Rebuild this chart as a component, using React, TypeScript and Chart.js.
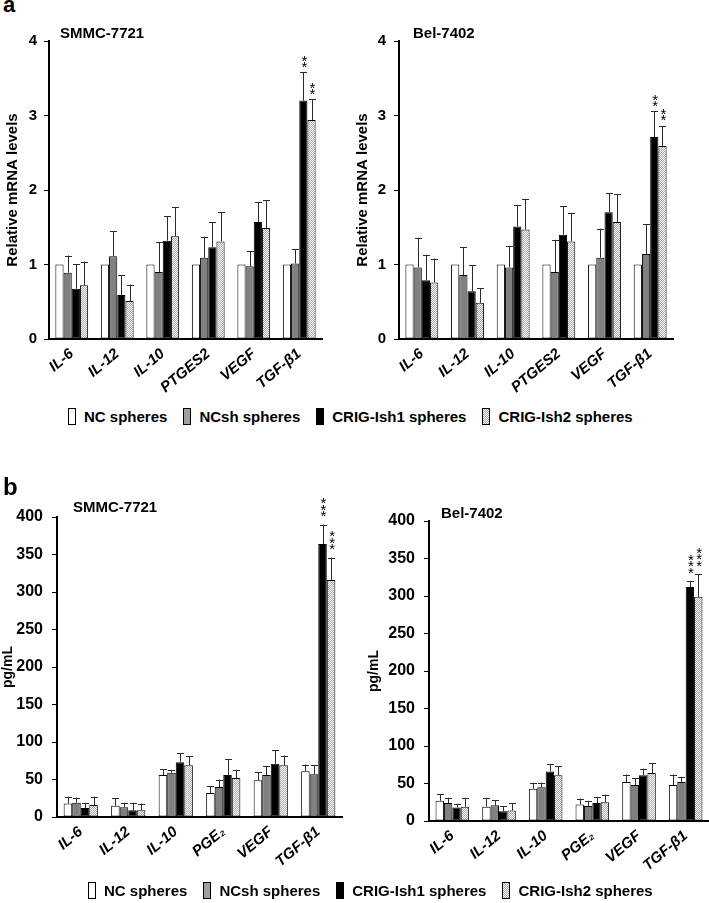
import React, { useEffect, useRef } from 'react';
import { Chart, registerables } from 'chart.js';

Chart.register(...registerables);

// ---------- data ----------
const SERIES = ['NC spheres', 'NCsh spheres', 'CRIG-Ish1 spheres', 'CRIG-Ish2 spheres'];
const MRNA_LABELS = ['IL-6', 'IL-12', 'IL-10', 'PTGES2', 'VEGF', 'TGF-β1'];
const PROTEIN_LABELS = ['IL-6', 'IL-12', 'IL-10', 'PGE₂', 'VEGF', 'TGF-β1'];

const MRNA_TICKS = [0, 1, 2, 3, 4];
const PROTEIN_TICKS = [0, 50, 100, 150, 200, 250, 300, 350, 400];

// (a) SMMC-7721 relative mRNA levels
const SMMC_MRNA_NC = [1, 1, 1, 1, 1, 1];
const SMMC_MRNA_NCSH = [0.89, 1.11, 0.9, 1.09, 0.975, 1.015];
const SMMC_MRNA_SH1 = [0.675, 0.59, 1.32, 1.23, 1.57, 3.2];
const SMMC_MRNA_SH2 = [0.72, 0.51, 1.38, 1.31, 1.49, 2.94];
const SMMC_MRNA_NC_ERR = [0, 0, 0, 0, 0, 0];
const SMMC_MRNA_NCSH_ERR = [0.23, 0.34, 0.4, 0.28, 0.2, 0.19];
const SMMC_MRNA_SH1_ERR = [0.33, 0.27, 0.33, 0.34, 0.27, 0.38];
const SMMC_MRNA_SH2_ERR = [0.32, 0.22, 0.39, 0.39, 0.37, 0.28];

// (a) Bel-7402 relative mRNA levels
const BEL_MRNA_NC = [1, 1, 1, 1, 1, 1];
const BEL_MRNA_NCSH = [0.96, 0.86, 0.96, 0.9, 1.09, 1.14];
const BEL_MRNA_SH1 = [0.79, 0.64, 1.51, 1.4, 1.7, 2.71];
const BEL_MRNA_SH2 = [0.76, 0.485, 1.47, 1.31, 1.57, 2.59];
const BEL_MRNA_NC_ERR = [0, 0, 0, 0, 0, 0];
const BEL_MRNA_NCSH_ERR = [0.4, 0.37, 0.29, 0.43, 0.39, 0.4];
const BEL_MRNA_SH1_ERR = [0.34, 0.35, 0.29, 0.38, 0.26, 0.35];
const BEL_MRNA_SH2_ERR = [0.32, 0.2, 0.41, 0.38, 0.37, 0.27];

// (b) SMMC-7721 pg/mL
const SMMC_PROT_NC = [18, 15, 56, 32, 49, 61];
const SMMC_PROT_NCSH = [19, 13, 59, 40, 56, 57];
const SMMC_PROT_SH1 = [12, 9, 73, 56, 71, 364];
const SMMC_PROT_SH2 = [16, 9, 69, 52, 69, 316];
const SMMC_PROT_NC_ERR = [9, 10, 8, 9, 11, 9];
const SMMC_PROT_NCSH_ERR = [7, 6, 4, 10, 12, 12];
const SMMC_PROT_SH1_ERR = [7, 10, 12, 21, 18, 26];
const SMMC_PROT_SH2_ERR = [11, 9, 12, 11, 13, 30];

// (b) Bel-7402 pg/mL
const BEL_PROT_NC = [27, 19, 43, 22, 52, 48];
const BEL_PROT_NCSH = [24, 21, 45, 20, 48, 52];
const BEL_PROT_SH1 = [18, 13, 66, 24, 61, 312];
const BEL_PROT_SH2 = [19, 14, 61, 25, 64, 299];
const BEL_PROT_NC_ERR = [9, 12, 8, 8, 10, 14];
const BEL_PROT_NCSH_ERR = [7, 7, 6, 7, 9, 7];
const BEL_PROT_SH1_ERR = [5, 7, 10, 8, 9, 8];
const BEL_PROT_SH2_ERR = [12, 10, 12, 10, 13, 30];

// significance marks (number of stars per bar)
const NO_STARS = [0, 0, 0, 0, 0, 0];
const MRNA_STARS = [0, 0, 0, 0, 0, 2];
const PROT_STARS = [0, 0, 0, 0, 0, 3];

// ---------- styling ----------
const FONT = '"Liberation Sans", Arial, Helvetica, sans-serif';
const BAR_FILLS = ['#ffffff', '#808080', '#000000', 'PATTERN'];
const LEGEND_FILLS = ['#ffffff', '#a0a0a0', '#000000', 'PATTERN'];
const LABEL_ROTATION_DEG = 40;

function makePattern(): CanvasPattern | string {
  const c = document.createElement('canvas');
  c.width = 2;
  c.height = 2;
  const ctx = c.getContext('2d');
  if (!ctx) return '#d4d4d4';
  ctx.fillStyle = '#ffffff';
  ctx.fillRect(0, 0, 2, 2);
  ctx.fillStyle = '#a8a8a8';
  ctx.fillRect(0, 0, 1, 1);
  ctx.fillRect(1, 1, 1, 1);
  return ctx.createPattern(c, 'repeat') || '#d4d4d4';
}

// error bars + stacked significance stars, positioned through the y scale
const errorBarPlugin = {
  id: 'errorBars',
  afterDatasetsDraw(chart: any) {
    const ctx = chart.ctx;
    const yScale = chart.scales.y;
    const starGap = chart.options.plugins.errorBars?.starGap ?? 8;
    const starStep = chart.options.plugins.errorBars?.starStep ?? 6;
    const starSize = 15;
    chart.data.datasets.forEach((ds: any, i: number) => {
      const meta = chart.getDatasetMeta(i);
      meta.data.forEach((el: any, j: number) => {
        const v = ds.data[j];
        const e = ds.errors[j];
        const top = yScale.getPixelForValue(v + e);
        const x = Math.round(el.x) + 0.5;
        if (e > 0) {
          ctx.save();
          ctx.strokeStyle = '#2a2a2a';
          ctx.lineWidth = 1;
          ctx.beginPath();
          ctx.moveTo(x, el.y);
          ctx.lineTo(x, top);
          ctx.moveTo(x - 3.5, Math.round(top) + 0.5);
          ctx.lineTo(x + 3.5, Math.round(top) + 0.5);
          ctx.stroke();
          ctx.restore();
        }
        const n = ds.stars[j];
        if (n > 0) {
          ctx.save();
          ctx.fillStyle = '#000';
          ctx.font = `${starSize}px ${FONT}`;
          ctx.textAlign = 'center';
          ctx.textBaseline = 'alphabetic';
          for (let k = 0; k < n; k++) {
            const cy = top - starGap - k * starStep;
            // asterisk glyph centre sits ~0.57em above the baseline
            ctx.fillText('*', el.x + 1, cy + 0.57 * starSize);
          }
          ctx.restore();
        }
      });
    });
  },
};

type PanelSpec = {
  left: number;
  top: number;
  width: number;
  height: number;
  yWidth: number;
  xHeight: number;
  padTop: number;
  padRight: number;
  labels: string[];
  values: number[][];
  errors: number[][];
  stars: number[][];
  ticks: number[];
  tickSize: number;
  yTitle: string;
  yTitleSize: number;
  yTitlePad: number;
  tickPad: number;
  starGap: number;
  starStep: number;
};

const PANELS: PanelSpec[] = [
  {
    left: 0, top: 21, width: 328, height: 380, yWidth: 49, xHeight: 62, padTop: 20, padRight: 6,
    labels: MRNA_LABELS,
    values: [SMMC_MRNA_NC, SMMC_MRNA_NCSH, SMMC_MRNA_SH1, SMMC_MRNA_SH2],
    errors: [SMMC_MRNA_NC_ERR, SMMC_MRNA_NCSH_ERR, SMMC_MRNA_SH1_ERR, SMMC_MRNA_SH2_ERR],
    stars: [NO_STARS, NO_STARS, MRNA_STARS, MRNA_STARS],
    ticks: MRNA_TICKS, tickSize: 15, yTitle: 'Relative mRNA levels', yTitleSize: 15, yTitlePad: 4, tickPad: 7,
    starGap: 9, starStep: 6,
  },
  {
    left: 350, top: 21, width: 329, height: 380, yWidth: 49, xHeight: 62, padTop: 20, padRight: 6,
    labels: MRNA_LABELS,
    values: [BEL_MRNA_NC, BEL_MRNA_NCSH, BEL_MRNA_SH1, BEL_MRNA_SH2],
    errors: [BEL_MRNA_NC_ERR, BEL_MRNA_NCSH_ERR, BEL_MRNA_SH1_ERR, BEL_MRNA_SH2_ERR],
    stars: [NO_STARS, NO_STARS, MRNA_STARS, MRNA_STARS],
    ticks: MRNA_TICKS, tickSize: 15, yTitle: 'Relative mRNA levels', yTitleSize: 15, yTitlePad: 4, tickPad: 8,
    starGap: 9, starStep: 6,
  },
  {
    left: 0, top: 497, width: 348, height: 382, yWidth: 57, xHeight: 62, padTop: 20, padRight: 6,
    labels: PROTEIN_LABELS,
    values: [SMMC_PROT_NC, SMMC_PROT_NCSH, SMMC_PROT_SH1, SMMC_PROT_SH2],
    errors: [SMMC_PROT_NC_ERR, SMMC_PROT_NCSH_ERR, SMMC_PROT_SH1_ERR, SMMC_PROT_SH2_ERR],
    stars: [NO_STARS, NO_STARS, PROT_STARS, PROT_STARS],
    ticks: PROTEIN_TICKS, tickSize: 16, yTitle: 'pg/mL', yTitleSize: 14, yTitlePad: 0, tickPad: 9,
    starGap: 12, starStep: 6.5,
  },
  {
    left: 350, top: 501, width: 359, height: 382, yWidth: 79, xHeight: 62, padTop: 20, padRight: 0,
    labels: PROTEIN_LABELS,
    values: [BEL_PROT_NC, BEL_PROT_NCSH, BEL_PROT_SH1, BEL_PROT_SH2],
    errors: [BEL_PROT_NC_ERR, BEL_PROT_NCSH_ERR, BEL_PROT_SH1_ERR, BEL_PROT_SH2_ERR],
    stars: [NO_STARS, NO_STARS, PROT_STARS, PROT_STARS],
    ticks: PROTEIN_TICKS, tickSize: 16, yTitle: 'pg/mL', yTitleSize: 14, yTitlePad: 16, tickPad: 9,
    starGap: 12, starStep: 6.5,
  },
];

function BarPanel({ spec }: { spec: PanelSpec }) {
  const ref = useRef<HTMLCanvasElement | null>(null);
  useEffect(() => {
    if (!ref.current) return;
    const pattern = makePattern();
    const ticks = spec.ticks;
    const chart = new Chart(ref.current, {
      type: 'bar',
      data: {
        labels: spec.labels,
        datasets: SERIES.map((name, i) => ({
          label: name,
          data: spec.values[i],
          errors: spec.errors[i],
          stars: spec.stars[i],
          backgroundColor: BAR_FILLS[i] === 'PATTERN' ? pattern : BAR_FILLS[i],
          borderColor: '#000',
          borderWidth: 1,
          borderSkipped: false,
          categoryPercentage: 0.72,
          barPercentage: 1.0,
        })) as any,
      },
      options: {
        animation: false,
        responsive: false,
        maintainAspectRatio: false,
        devicePixelRatio: 1,
        layout: { padding: { top: spec.padTop, right: spec.padRight, left: 0, bottom: 0 } },
        plugins: {
          legend: { display: false },
          tooltip: { enabled: false },
          errorBars: { starGap: spec.starGap, starStep: spec.starStep },
        } as any,
        scales: {
          x: {
            grid: { display: false, drawTicks: false },
            border: { display: true, color: '#000', width: 2 },
            ticks: {
              color: '#000',
              autoSkip: false,
              minRotation: LABEL_ROTATION_DEG,
              maxRotation: LABEL_ROTATION_DEG,
              padding: 6,
              font: { family: FONT, size: 15, weight: 'bold', style: 'italic' },
            },
            afterFit: (s: any) => {
              s.height = spec.xHeight;
            },
          },
          y: {
            min: ticks[0],
            max: ticks[ticks.length - 1],
            afterBuildTicks: (s: any) => {
              s.ticks = ticks.map((v) => ({ value: v }));
            },
            ticks: {
              color: '#000',
              padding: spec.tickPad,
              font: { family: FONT, size: spec.tickSize, weight: 'bold' },
            },
            grid: { drawOnChartArea: false, drawTicks: true, tickLength: 5, color: '#000', lineWidth: 1 },
            border: { display: true, color: '#000', width: 2 },
            title: {
              display: true,
              text: spec.yTitle,
              color: '#000',
              font: { family: FONT, size: spec.yTitleSize, weight: 'bold', lineHeight: 1.2 },
              padding: { top: spec.yTitlePad, bottom: 0 },
            },
            afterFit: (s: any) => {
              s.width = spec.yWidth;
            },
          },
        },
      } as any,
      plugins: [errorBarPlugin as any],
    });
    return () => chart.destroy();
  }, [spec]);
  return (
    <canvas
      ref={ref}
      width={spec.width}
      height={spec.height}
      style={{ position: 'absolute', left: spec.left, top: spec.top, width: spec.width, height: spec.height }}
    />
  );
}

function Legend({ left, top }: { left: number; top: number }) {
  return (
    <div
      style={{
        position: 'absolute',
        left,
        top,
        height: 17,
        display: 'flex',
        alignItems: 'center',
        whiteSpace: 'nowrap',
        fontFamily: FONT,
        fontWeight: 'bold',
        fontSize: 15,
        color: '#000',
      }}
    >
      {SERIES.map((name, i) => (
        <div key={name} style={{ display: 'flex', alignItems: 'center', marginRight: i < SERIES.length - 1 ? 16 : 0 }}>
          <div
            style={{
              width: 8,
              height: 17,
              boxSizing: 'border-box',
              border: '1px solid #000',
              background:
                LEGEND_FILLS[i] === 'PATTERN'
                  ? 'repeating-conic-gradient(#a8a8a8 0% 25%, #ffffff 0% 50%) 0 0 / 2px 2px'
                  : LEGEND_FILLS[i],
              marginRight: 8,
            }}
          />
          <span style={{ lineHeight: '17px' }}>{name}</span>
        </div>
      ))}
    </div>
  );
}

const textStyle = (left: number, top: number, size: number): React.CSSProperties => ({
  position: 'absolute',
  left,
  top,
  fontSize: size,
  lineHeight: `${size}px`,
  fontWeight: 'bold',
  fontFamily: FONT,
  color: '#000',
  whiteSpace: 'nowrap',
});

export default function App() {
  return (
    <div
      style={{
        position: 'absolute',
        left: 0,
        top: 0,
        width: 709,
        height: 903,
        background: '#ffffff',
        overflow: 'hidden',
      }}
    >
      {PANELS.map((p, i) => (
        <BarPanel key={i} spec={p} />
      ))}
      <div style={textStyle(3, -6, 22)}>a</div>
      <div style={textStyle(3, 475, 24)}>b</div>
      <div style={textStyle(60, 25, 15)}>SMMC-7721</div>
      <div style={textStyle(413, 25, 15)}>Bel-7402</div>
      <div style={textStyle(73, 499, 15)}>SMMC-7721</div>
      <div style={textStyle(441, 505, 15)}>Bel-7402</div>
      <Legend left={68} top={408} />
      <Legend left={88} top={882} />
    </div>
  );
}
